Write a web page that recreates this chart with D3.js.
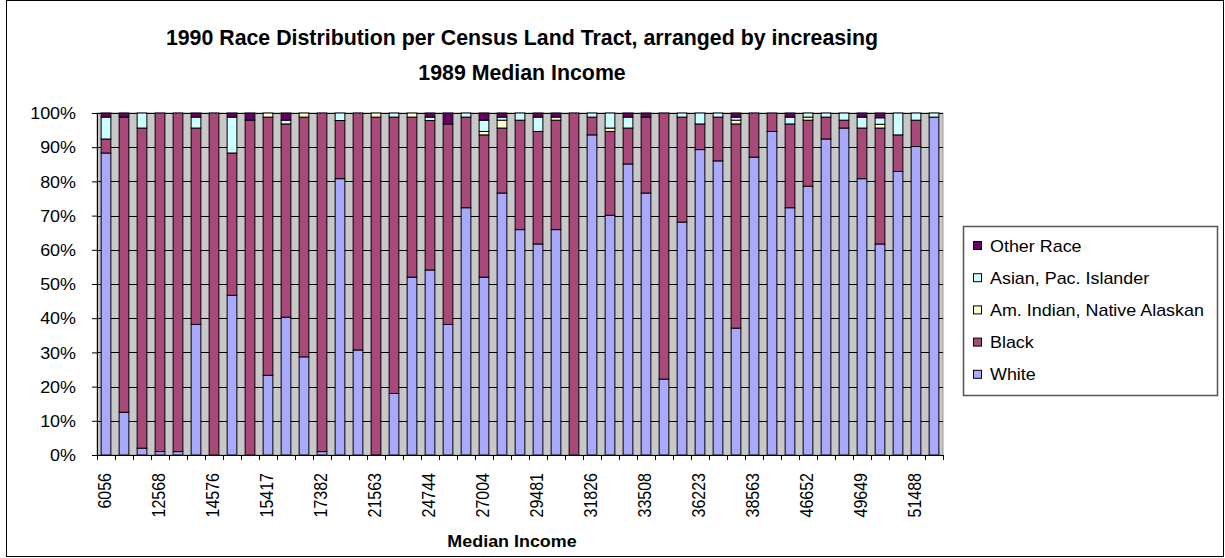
<!DOCTYPE html>
<html>
<head>
<meta charset="utf-8">
<script src="https://cdn.jsdelivr.net/npm/d3@7"></script>
<style>
  body { margin: 0; background: #fff; }
  svg { display: block; font-family: "Liberation Sans", Arial, sans-serif; }
</style>
</head>
<body>
<div id="chart"></div>
<script>
// only every third tract carries a label in the original
const tickLabels = ["6056", "12568", "14576", "15417", "17382", "21563", "24744", "27004",
  "29481", "31826", "33508", "36223", "38563", "46652", "49649", "51488"];

// percent of tract population, one entry per tract (47 tracts)
const white = [88.3, 12.5, 2.0, 1.0, 1.0, 38.2, 0, 46.7, 0, 23.3, 40.3, 28.7, 1.0, 80.8, 30.7, 0,
  18.0, 52.0, 54.1, 38.2, 72.3, 52.0, 76.6, 65.9, 61.7, 65.9, 0, 93.6, 70.1, 85.1, 76.6, 22.2,
  68.1, 89.3, 86.0, 37.1, 87.1, 94.6, 72.3, 78.6, 92.4, 95.6, 80.8, 61.7, 82.9, 90.2, 98.8];
const black = [4.1, 86.3, 93.6, 99.0, 99.0, 57.4, 100, 41.6, 97.9, 75.5, 56.5, 70.1, 99.0, 17.0, 69.3, 98.8,
  80.8, 46.8, 43.7, 58.6, 26.5, 41.6, 19.0, 32.0, 32.9, 32.0, 100, 5.2, 24.5, 10.5, 22.2, 77.8,
  30.7, 7.5, 12.8, 59.7, 12.9, 5.4, 24.5, 19.3, 6.4, 2.3, 14.8, 33.9, 10.7, 7.7, 0];
const amIndian = [0, 0, 0, 0, 0, 0, 0, 0, 0, 1.2, 0, 1.2, 0, 0, 0, 1.2,
  0, 1.2, 0, 0, 0, 1.0, 2.3, 0, 0, 0.9, 0, 0, 1.0, 0, 0, 0,
  0, 0, 0, 1.1, 0, 0, 0, 0.9, 0, 0, 0, 1.1, 0, 0, 0];
const asian = [6.4, 0, 4.4, 0, 0, 3.2, 0, 10.5, 0, 0, 1.1, 0, 0, 2.2, 0, 0,
  1.2, 0, 1.0, 0, 1.2, 3.3, 0.9, 2.1, 4.2, 0, 0, 1.2, 4.4, 3.2, 0, 0,
  1.2, 3.2, 1.2, 0.9, 0, 0, 2.0, 1.2, 1.2, 2.1, 3.2, 1.9, 6.4, 2.1, 1.2];
const otherRace = [1.2, 1.2, 0, 0, 0, 1.2, 0, 1.2, 2.1, 0, 2.1, 0, 0, 0, 0, 0,
  0, 0, 1.2, 3.2, 0, 2.1, 1.2, 0, 1.2, 1.2, 0, 0, 0, 1.2, 1.2, 0,
  0, 0, 0, 1.2, 0, 0, 1.2, 0, 0, 0, 1.2, 1.4, 0, 0, 0];

const seriesNames = ["White", "Black", "Am. Indian, Native Alaskan", "Asian, Pac. Islander", "Other Race"];
const seriesColors = ["#A9A9FF", "#A8497A", "#FFFFCC", "#CCFFFF", "#660066"];
const yTicks = [0, 0.1, 0.2, 0.3, 0.4, 0.5, 0.6, 0.7, 0.8, 0.9, 1];

const rows = white.map((w, i) => ({
  tract: i,
  "White": w,
  "Black": black[i],
  "Am. Indian, Native Alaskan": amIndian[i],
  "Asian, Pac. Islander": asian[i],
  "Other Race": otherRace[i]
}));

const width = 1225;
const height = 558;
const plot = { left: 97, right: 943, top: 113, bottom: 455 };
const stretch = "scale(1.12,1)"; // reference text is drawn a bit wide

const svg = d3.select("#chart")
  .append("svg")
  .attr("width", width)
  .attr("height", height);

// chart frame
svg.append("rect")
  .attr("x", 6.5).attr("y", 0.5)
  .attr("width", 1217).attr("height", 556)
  .attr("fill", "#fff")
  .attr("stroke", "#000");

const x = d3.scaleBand()
  .domain(rows.map(d => d.tract))
  .range([plot.left, plot.right])
  .paddingInner(0.46)
  .paddingOuter(0.23);

const y = d3.scaleLinear().domain([0, 1]).range([plot.bottom, plot.top]);

const color = d3.scaleOrdinal().domain(seriesNames).range(seriesColors);

// plot area
svg.append("rect")
  .attr("x", plot.left).attr("y", plot.top)
  .attr("width", plot.right - plot.left).attr("height", plot.bottom - plot.top)
  .attr("fill", "#C8C8C8")
  .attr("stroke", "#9a9a9a");

// gridlines
svg.append("g")
  .selectAll("line")
  .data(yTicks.slice(1))
  .join("line")
  .attr("x1", plot.left).attr("x2", plot.right)
  .attr("y1", d => Math.round(y(d)) + 0.5).attr("y2", d => Math.round(y(d)) + 0.5)
  .attr("stroke", "#000");

// stacked bars
const stacked = d3.stack()
  .keys(seriesNames)
  .offset(d3.stackOffsetExpand)(rows);

svg.append("g")
  .selectAll("g")
  .data(stacked)
  .join("g")
  .attr("fill", d => color(d.key))
  .selectAll("rect")
  .data(d => d.filter(s => s[1] - s[0] > 0))
  .join("rect")
  .attr("x", d => x(d.data.tract))
  .attr("y", d => y(d[1]))
  .attr("width", x.bandwidth())
  .attr("height", d => y(d[0]) - y(d[1]))
  .attr("stroke", "#000")
  .attr("stroke-width", 1);

// y axis
const yAxis = svg.append("g")
  .attr("transform", `translate(${plot.left},0)`)
  .call(d3.axisLeft(y).tickValues(yTicks).tickSize(5).tickSizeOuter(0).tickFormat(d3.format(".0%")));
yAxis.select(".domain").attr("stroke", "#000");
yAxis.selectAll("text")
  .attr("x", -21 / 1.12)
  .attr("dy", "0.35em")
  .attr("transform", stretch)
  .attr("font-size", 16)
  .attr("font-family", "Liberation Sans, Arial, sans-serif")
  .attr("fill", "#000");

// x axis: line, ticks at category boundaries, labels on every third tract
const xg = svg.append("g");
xg.append("line")
  .attr("x1", plot.left).attr("x2", plot.right)
  .attr("y1", plot.bottom + 0.5).attr("y2", plot.bottom + 0.5)
  .attr("stroke", "#000");
xg.selectAll(".tick")
  .data(d3.range(rows.length + 1))
  .join("line")
  .attr("class", "tick")
  .attr("x1", i => Math.round(plot.left + i * x.step()) + 0.5)
  .attr("x2", i => Math.round(plot.left + i * x.step()) + 0.5)
  .attr("y1", plot.bottom)
  .attr("y2", plot.bottom + 5)
  .attr("stroke", "#000");
xg.selectAll(".lbl")
  .data(tickLabels)
  .join("text")
  .attr("class", "lbl")
  .attr("transform", (d, k) => `translate(${x(k * 3) + x.bandwidth() / 2 - 1},${plot.bottom + 18}) ${stretch} rotate(-90)`)
  .attr("text-anchor", "end")
  .attr("dy", "0.35em")
  .attr("font-size", 16)
  .text(d => d);

// axis title
svg.append("text")
  .attr("transform", `translate(512,547) ${stretch}`)
  .attr("text-anchor", "middle")
  .attr("font-size", 16)
  .attr("font-weight", "bold")
  .text("Median Income");

// chart title
const titleLines = ["1990 Race Distribution per Census Land Tract, arranged by increasing", "1989 Median Income"];
svg.selectAll(".title")
  .data(titleLines)
  .join("text")
  .attr("class", "title")
  .attr("transform", (d, i) => `translate(522,${45 + i * 35}) scale(0.97,1)`)
  .attr("text-anchor", "middle")
  .attr("font-size", 22)
  .attr("font-weight", "bold")
  .text(d => d);

// legend
const legend = svg.append("g");
legend.append("rect")
  .attr("x", 963.5).attr("y", 226.5)
  .attr("width", 254).attr("height", 169)
  .attr("fill", "#fff")
  .attr("stroke", "#555")
  .attr("stroke-width", 1.5);

const legendItems = legend.selectAll(".item")
  .data(seriesNames.slice().reverse())
  .join("g")
  .attr("class", "item")
  .attr("transform", (d, i) => `translate(0,${246 + i * 32.2})`);
legendItems.append("rect")
  .attr("x", 973.5).attr("y", -4.5)
  .attr("width", 8).attr("height", 8)
  .attr("fill", d => color(d))
  .attr("stroke", "#000");
legendItems.append("text")
  .attr("transform", `translate(990,0) ${stretch}`)
  .attr("dy", "0.35em")
  .attr("font-size", 16)
  .text(d => d);
</script>
</body>
</html>
